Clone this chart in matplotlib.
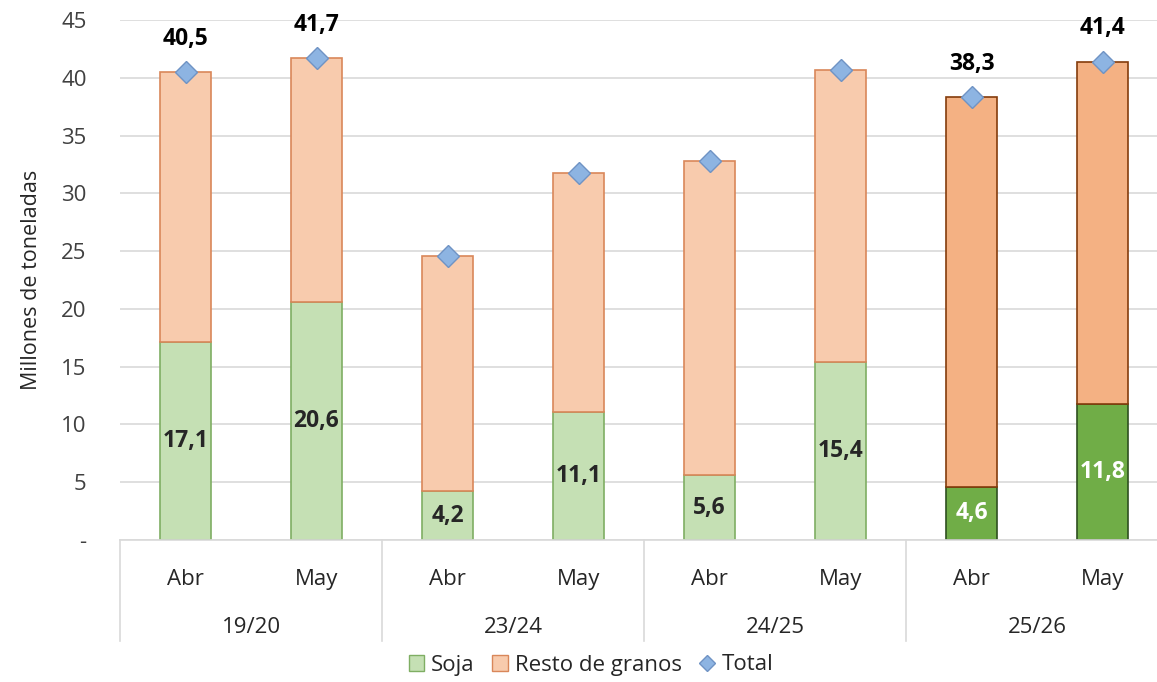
import numpy as np
import matplotlib.pyplot as plt
from matplotlib.patches import Patch
from matplotlib.lines import Line2D
import matplotlib.transforms as mtransforms

plt.rcParams['font.family'] = ['Open Sans', 'DejaVu Sans']

# ── data ─────────────────────────────
campaigns = ["19/20", "23/24", "24/25", "25/26"]
months    = ["Abr", "May", "Abr", "May", "Abr", "May", "Abr", "May"]
soja      = [17.1, 20.6, 4.2, 11.1, 5.6, 15.4, 4.6, 11.8]
total     = [40.5, 41.7, 24.6, 31.8, 32.8, 40.7, 38.3, 41.4]
show_total_label = [True, True, False, False, False, False, True, True]
resto = [t - s for t, s in zip(total, soja)]

# colours: last campaign highlighted
soja_face  = ['#c5e0b4'] * 6 + ['#70ad47'] * 2
soja_edge  = ['#7fae63'] * 6 + ['#2f5020'] * 2
resto_face = ['#f8cbad'] * 6 + ['#f4b183'] * 2
resto_edge = ['#d9875a'] * 6 + ['#843c0c'] * 2
soja_txt   = ['#262626'] * 6 + ['white'] * 2

fig = plt.figure(figsize=(11.57, 6.82), dpi=100)
ax = fig.add_axes([120 / 1157, 1 - 540 / 682, 1048 / 1157, 520 / 682])

x = np.arange(len(months))
w = 0.39

ax.bar(x, soja, w, color=soja_face, edgecolor=soja_edge, linewidth=1.2, zorder=2)
ax.bar(x, resto, w, bottom=soja, color=resto_face, edgecolor=resto_edge,
       linewidth=1.2, zorder=2)
ax.plot(x, total, linestyle='none', marker='D', markersize=11,
        markerfacecolor='#8db4e2', markeredgecolor='#6f93c4',
        markeredgewidth=1, zorder=3)

fmt = lambda v: f"{v:.1f}".replace('.', ',')

for i in range(len(x)):
    ax.text(x[i], soja[i] / 2, fmt(soja[i]), ha='center', va='center',
            fontsize=16.5, fontweight='bold', color=soja_txt[i], zorder=4)
    if show_total_label[i]:
        ax.annotate(fmt(total[i]), (x[i], total[i]), xytext=(0, 24),
                    textcoords='offset points', ha='center', va='center',
                    fontsize=16.5, fontweight='bold', color='black')

ax.set_xlim(-0.5, 7.5)
ax.set_ylim(0, 45)
ax.set_yticks(np.arange(0, 46, 5))
ax.set_yticklabels(['-'] + [str(v) for v in range(5, 46, 5)])
ax.yaxis.grid(True, color='#d9d9d9', linewidth=1.2)
ax.set_axisbelow(True)
ax.tick_params(axis='y', length=0, labelsize=16, labelcolor='#404040', pad=24)
ax.set_ylabel('Millones de toneladas', fontsize=15.5, color='#262626', labelpad=14)

for s in ['top', 'right', 'left']:
    ax.spines[s].set_visible(False)
ax.spines['bottom'].set_color('#d9d9d9')
ax.spines['bottom'].set_linewidth(1.2)

# two-level category axis
ax.set_xticks(x)
ax.set_xticklabels(months)
ax.tick_params(axis='x', length=0, labelsize=16, labelcolor='#262626', pad=21)

trans = mtransforms.blended_transform_factory(ax.transData, ax.transAxes)
for j, camp in enumerate(campaigns):
    ax.text(2 * j + 0.5, -0.168, camp, transform=trans, ha='center',
            va='center', fontsize=16, color='#262626')
for sep in [-0.5, 1.5, 3.5, 5.5]:
    ax.plot([sep, sep], [0, -0.195], transform=trans, color='#d9d9d9',
            linewidth=1.2, clip_on=False)

handles = [
    Patch(facecolor='#c5e0b4', edgecolor='#7fae63', label='Soja'),
    Patch(facecolor='#f8cbad', edgecolor='#d9875a', label='Resto de granos'),
    Line2D([], [], linestyle='none', marker='D', markersize=8,
           markerfacecolor='#8db4e2', markeredgecolor='#6f93c4', label='Total'),
]
fig.legend(handles=handles, loc='center', bbox_to_anchor=(591 / 1157, 1 - 665 / 682),
           ncol=3, frameon=False, fontsize=16, handlelength=0.7, handleheight=0.7,
           handletextpad=0.3, columnspacing=0.8, labelcolor='#262626')

fig.savefig('out.png', dpi=100)
